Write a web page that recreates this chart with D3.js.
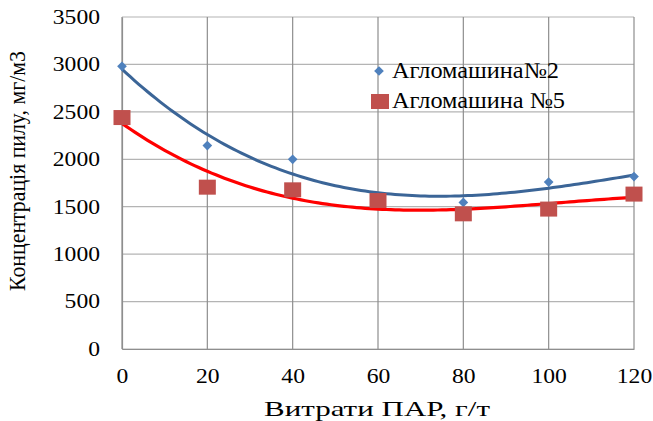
<!DOCTYPE html>
<html>
<head>
<meta charset="utf-8">
<script src="https://cdn.jsdelivr.net/npm/d3@7"></script>
<style>
  body { margin: 0; background: #fff; }
  text { font-family: "Liberation Serif", "Times New Roman", serif; fill: #000; }
</style>
</head>
<body>
<svg id="chart" width="653" height="421"></svg>
<script>
// data (blue point at 60 sits under the red square)
var xValues = [0, 20, 40, 60, 80, 100, 120];
var machine2 = [2980, 2145, 2000, 1600, 1545, 1760, 1818];
var machine5 = [2440, 1706, 1678, 1565, 1425, 1475, 1633];
var seriesNames = ["Агломашина№2", "Агломашина №5"];
var xTicks = [0, 20, 40, 60, 80, 100, 120];
var yTicks = [0, 500, 1000, 1500, 2000, 2500, 3000, 3500];

var svg = d3.select("#chart");
// plot box ("top" is a window global, so other names here)
var pLeft = 122, pRight = 634, pTop = 17, pBottom = 349;
var digitW = 11.8; // the labels in the picture are wider than plain Times

var x = d3.scaleLinear().domain([0, 120]).range([pLeft, pRight]);
var y = d3.scaleLinear().domain([0, 3500]).range([pBottom, pTop]);

// grid
svg.append("g").selectAll("line").data(yTicks).join("line")
  .attr("x1", pLeft).attr("x2", pRight)
  .attr("y1", d => y(d)).attr("y2", d => y(d))
  .attr("stroke", "#b4b4b4").attr("stroke-width", 1.2);
svg.append("g").selectAll("line").data(xTicks).join("line")
  .attr("x1", d => x(d)).attr("x2", d => x(d))
  .attr("y1", pTop).attr("y2", pBottom)
  .attr("stroke", "#8e8e8e").attr("stroke-width", 1.2);

// axes
var xAxis = svg.append("g").attr("transform", "translate(0," + pBottom + ")")
  .call(d3.axisBottom(x).tickValues(xTicks).tickFormat(d3.format("d")).tickSize(0).tickPadding(20));
var yAxis = svg.append("g").attr("transform", "translate(" + pLeft + ",0)")
  .call(d3.axisLeft(y).tickValues(yTicks).tickFormat(d3.format("d")).tickSize(0).tickPadding(22));
[xAxis, yAxis].forEach(function(a) {
  a.attr("font-size", 20);
  a.select(".domain").attr("stroke", "#8e8e8e").attr("stroke-width", 1.2);
  a.selectAll("text").attr("fill", "#000")
    .attr("textLength", d => String(d).length * digitW)
    .attr("lengthAdjust", "spacingAndGlyphs");
});

// least squares polynomial (excel style trendline), x scaled by 20
function polyFit(xs, ys, deg) {
  var n = deg + 1, m = [];
  for (var r = 0; r < n; r++) {
    m.push([]);
    for (var c = 0; c < n; c++) m[r].push(d3.sum(xs, xi => Math.pow(xi / 20, r + c)));
    m[r].push(d3.sum(xs, (xi, i) => ys[i] * Math.pow(xi / 20, r)));
  }
  for (var i = 0; i < n; i++) {
    for (var j = i + 1; j < n; j++) {
      var f = m[j][i] / m[i][i];
      for (var k = i; k <= n; k++) m[j][k] -= f * m[i][k];
    }
  }
  var coef = new Array(n).fill(0);
  for (var i = n - 1; i >= 0; i--) {
    var v = m[i][n];
    for (var k = i + 1; k < n; k++) v -= m[i][k] * coef[k];
    coef[i] = v / m[i][i];
  }
  return xv => d3.sum(coef, (cf, p) => cf * Math.pow(xv / 20, p));
}

var line = d3.line().x(d => x(d[0])).y(d => y(d[1]));
var fine = d3.range(0, 120.5, 1);
var f2 = polyFit(xValues, machine2, 3), f5 = polyFit(xValues, machine5, 3);

svg.append("path").datum(fine.map(v => [v, f2(v)]))
  .attr("d", line).attr("fill", "none").attr("stroke", "#3b6597").attr("stroke-width", 3);
svg.append("path").datum(fine.map(v => [v, f5(v)]))
  .attr("d", line).attr("fill", "none").attr("stroke", "#ff0000").attr("stroke-width", 3.2);

// markers
var diamond = d3.symbol().type(d3.symbolDiamond2).size(60);
svg.append("g").selectAll("path").data(xValues).join("path")
  .attr("d", diamond)
  .attr("transform", (d, i) => "translate(" + x(d) + "," + y(machine2[i]) + ")")
  .attr("fill", "#4f81bd");
svg.append("g").selectAll("rect").data(xValues).join("rect")
  .attr("x", (d) => x(d) - 8.5).attr("y", (d, i) => y(machine5[i]) - 7.5)
  .attr("width", 17).attr("height", 15)
  .attr("fill", "#c0504d");

// legend
var legend = svg.append("g");
legend.append("path").attr("d", diamond).attr("transform", "translate(379,71)").attr("fill", "#4f81bd");
legend.append("rect").attr("x", 371).attr("y", 94).attr("width", 18).attr("height", 15).attr("fill", "#c0504d");
var legendW = [167, 173];
legend.selectAll("text").data(seriesNames).join("text")
  .attr("x", 392).attr("y", (d, i) => 78 + i * 30)
  .attr("font-size", 23)
  .attr("textLength", (d, i) => legendW[i]).attr("lengthAdjust", "spacingAndGlyphs")
  .text(d => d);

// axis titles
svg.append("text").attr("x", 264).attr("y", 416)
  .attr("font-size", 22)
  .attr("textLength", 226).attr("lengthAdjust", "spacingAndGlyphs")
  .text("Витрати ПАР, г/т");
svg.append("text").attr("transform", "translate(25,291) rotate(-90)")
  .attr("font-size", 23)
  .attr("textLength", 240).attr("lengthAdjust", "spacingAndGlyphs")
  .text("Концентрація пилу, мг/м3");
</script>
</body>
</html>
